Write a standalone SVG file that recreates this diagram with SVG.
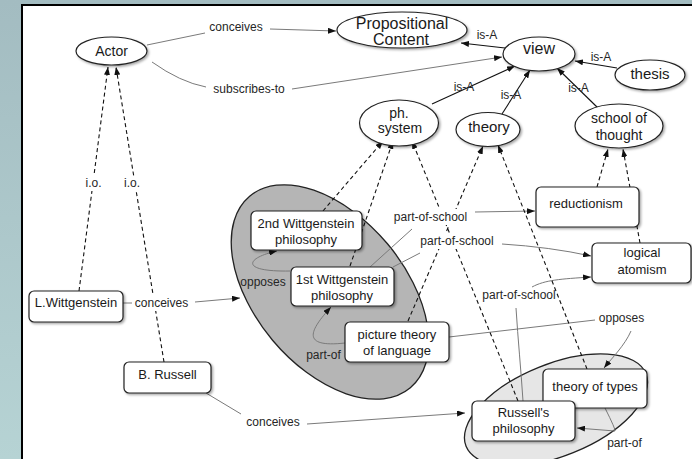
<svg xmlns="http://www.w3.org/2000/svg" width="692" height="459" viewBox="0 0 692 459">
<defs>
<linearGradient id="bg" x1="0" y1="0" x2="0" y2="1">
<stop offset="0" stop-color="#a3bcc1"/>
<stop offset="1" stop-color="#b6d3d4"/>
</linearGradient>
<marker id="ah" markerWidth="8" markerHeight="6" refX="8" refY="3" orient="auto" markerUnits="userSpaceOnUse">
<path d="M0,0 L8,3 L0,6 z" fill="#111"/>
</marker>
<filter id="sh" x="-10%" y="-10%" width="130%" height="140%">
<feDropShadow dx="1.5" dy="1.5" stdDeviation="1" flood-color="#000" flood-opacity="0.35"/>
</filter>
<style>
text{font-family:"Liberation Sans",Arial,Helvetica,sans-serif;fill:#1a1a1a;text-anchor:middle}
.nt{font-size:15px}
.nl{font-size:16px}
.ns{font-size:14px}
.bt{font-size:13px}
.lb{font-size:12px;fill:#262626}
.node ellipse,.node rect{fill:#fff;stroke:#222;stroke-width:1.2;filter:url(#sh)}
.rel{fill:none;stroke:#7a7a7a;stroke-width:1}
.isa{fill:none;stroke:#111;stroke-width:1.1}
.dash{fill:none;stroke:#111;stroke-width:1.1;stroke-dasharray:4 3}
.arr{marker-end:url(#ah)}
.bgl{fill:#fff;stroke:none}
</style>
</defs>
<rect x="0" y="0" width="692" height="459" fill="url(#bg)"/>
<rect x="22" y="5" width="672" height="460" fill="#fff" stroke="#000" stroke-width="2"/>

<g id="wittgenstein-cluster">
<ellipse cx="330" cy="292" rx="125" ry="75" transform="rotate(50 330 292)" fill="#b5b5b5" stroke="#222" stroke-width="1.3"/>
</g>
<g id="russell-cluster">
<ellipse cx="556" cy="410" rx="97" ry="46" transform="rotate(-22 556 410)" fill="#e6e6e6" stroke="#222" stroke-width="1.3"/>
</g>

<g id="connectors">
<path class="rel" d="M147,45 L205,33"/>
<path class="rel arr" d="M270,29 L336,31"/>
<path class="rel" d="M152,62 Q180,82 206,87"/>
<path class="rel arr" d="M292,89 L502,57"/>
<path class="rel" d="M123,303 L132,303"/>
<path class="rel arr" d="M195,302 L240,298"/>
<path class="rel" d="M206,393 L241,414"/>
<path class="rel arr" d="M307,424 L465,413"/>
<path class="rel arr" d="M290,271 C240,272 245,258 277,251"/>
<path class="rel arr" d="M345,343 C300,348 310,330 331,307"/>
<path class="rel" d="M370,267 L412,229"/>
<path class="rel arr" d="M475,212 L535,211"/>
<path class="rel" d="M393,267 L420,253"/>
<path class="rel arr" d="M502,244 Q550,247 591,256"/>
<path class="rel" d="M523,401 C521,370 518,340 516,308"/>
<path class="rel arr" d="M532,287 C545,280 560,279 591,277"/>
<path class="rel" d="M449,337 L595,320"/>
<path class="rel arr" d="M631,331 C625,345 612,358 604,368"/>
<path class="rel arr" d="M605,408 Q616,430 615,431 L577,428"/>

<path class="isa arr" d="M505,48 L461,43"/>
<path class="isa arr" d="M617,68 L575,61"/>
<path class="isa arr" d="M432,104 L515,66"/>
<path class="isa arr" d="M502,114 L530,70"/>
<path class="isa arr" d="M598,108 L557,68"/>

<path class="dash arr" d="M79,291 L108,67"/>
<path class="dash arr" d="M164,362 L116,67"/>
<path class="dash arr" d="M323,211 L383,141"/>
<path class="dash arr" d="M350,266 L393,141"/>
<path class="dash arr" d="M518,401 L412,141"/>
<path class="dash arr" d="M408,321 L483,146"/>
<path class="dash arr" d="M587,369 L498,145"/>
<path class="dash arr" d="M597,187 L608,149"/>
<path class="dash arr" d="M640,243 L623,149"/>

<rect class="bgl" x="84" y="176" width="19" height="15"/>
<rect class="bgl" x="123" y="176" width="19" height="15"/>
<rect class="bgl" x="134" y="295" width="56" height="16"/>
<rect class="bgl" x="391" y="209" width="79" height="16"/>
<rect class="bgl" x="418" y="233" width="78" height="16"/>

<text class="lb" x="236" y="31">conceives</text>
<text class="lb" x="249" y="93">subscribes-to</text>
<text class="lb" x="93.5" y="187">i.o.</text>
<text class="lb" x="132" y="187">i.o.</text>
<text class="lb" x="161.5" y="307">conceives</text>
<text class="lb" x="273" y="426">conceives</text>
<text class="lb" x="263" y="286">opposes</text>
<text class="lb" x="323.5" y="359">part-of</text>
<text class="lb" x="430.5" y="221">part-of-school</text>
<text class="lb" x="457" y="245">part-of-school</text>
<text class="lb" x="519" y="299">part-of-school</text>
<text class="lb" x="621.5" y="322">opposes</text>
<text class="lb" x="624.5" y="447">part-of</text>
<text class="lb" x="487" y="39">is-A</text>
<text class="lb" x="601" y="61">is-A</text>
<text class="lb" x="464" y="91">is-A</text>
<text class="lb" x="511" y="99">is-A</text>
<text class="lb" x="578.5" y="92">is-A</text>
</g>

<g id="actor" class="node"><ellipse cx="111.5" cy="51" rx="35.5" ry="14"/><text class="ns" x="111.5" y="56">Actor</text></g>
<g id="propositional-content" class="node"><ellipse cx="402" cy="30" rx="65" ry="18"/><text class="nl" x="402" y="29">Propositional</text><text class="nl" x="401" y="45">Content</text></g>
<g id="view" class="node"><ellipse cx="539" cy="54" rx="36" ry="17"/><text class="nl" x="539" y="54">view</text></g>
<g id="thesis" class="node"><ellipse cx="650" cy="75" rx="35" ry="15"/><text class="nt" x="650" y="79">thesis</text></g>
<g id="ph-system" class="node"><ellipse cx="399" cy="123" rx="39.5" ry="23"/><text class="ns" x="399" y="118">ph.</text><text class="ns" x="400" y="133">system</text></g>
<g id="theory" class="node"><ellipse cx="488" cy="129.5" rx="32" ry="17"/><text class="nt" x="489" y="132">theory</text></g>
<g id="school-of-thought" class="node"><ellipse cx="619" cy="126" rx="44" ry="22"/><text class="ns" x="619" y="123">school of</text><text class="ns" x="619" y="140">thought</text></g>

<g id="reductionism" class="node"><rect x="536" y="187" width="103" height="40" rx="5"/><text class="bt" x="586" y="208">reductionism</text></g>
<g id="logical-atomism" class="node"><rect x="592" y="243" width="99" height="40" rx="5"/><text class="bt" x="642" y="257">logical</text><text class="bt" x="642" y="274">atomism</text></g>
<g id="l-wittgenstein" class="node"><rect x="29" y="291" width="94" height="31" rx="5"/><text class="bt" x="76" y="307">L.Wittgenstein</text></g>
<g id="b-russell" class="node"><rect x="124" y="362" width="87" height="31" rx="5"/><text class="bt" x="167.5" y="379">B. Russell</text></g>
<g id="second-wittgenstein" class="node"><rect x="251" y="211" width="111" height="39" rx="5"/><text class="bt" x="306" y="228">2nd Wittgenstein</text><text class="bt" x="306" y="244">philosophy</text></g>
<g id="first-wittgenstein" class="node"><rect x="291" y="267" width="103" height="39" rx="5"/><text class="bt" x="342" y="284">1st Wittgenstein</text><text class="bt" x="342" y="300">philosophy</text></g>
<g id="picture-theory" class="node"><rect x="345" y="322" width="104" height="40" rx="5"/><text class="bt" x="397" y="339">picture theory</text><text class="bt" x="397" y="355">of language</text></g>
<g id="theory-of-types" class="node"><rect x="543" y="369" width="104" height="39" rx="5"/><text class="bt" x="595" y="391">theory of types</text></g>
<g id="russells-philosophy" class="node"><rect x="472" y="401" width="103" height="40" rx="5"/><text class="bt" x="523.5" y="417">Russell's</text><text class="bt" x="523.5" y="433">philosophy</text></g>
</svg>
